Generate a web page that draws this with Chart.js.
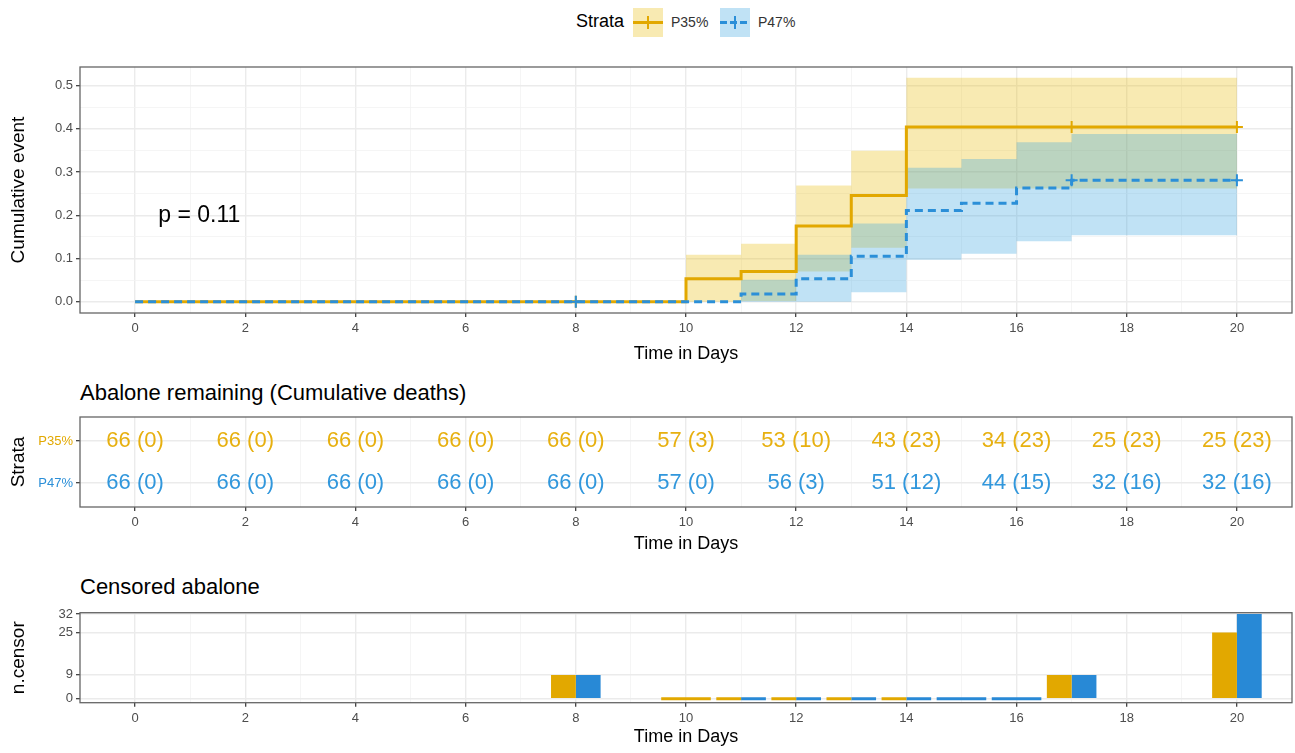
<!DOCTYPE html>
<html>
<head>
<meta charset="utf-8">
<script src="https://cdn.jsdelivr.net/npm/chart.js@4.4.1/dist/chart.umd.min.js"></script>
<style>
  body { margin: 0; background: #fff; width: 1295px; height: 753px; position: relative; overflow: hidden;
         font-family: "Liberation Sans", Arial, sans-serif; }
  canvas { position: absolute; left: 0; }
  .txt { position: absolute; white-space: nowrap; color: #000; }
  .key { position: absolute; width: 30px; height: 29px; top: 8px; }
  .key .h { position: absolute; left: 0; right: 0; top: 13px; height: 3px; }
  .key .v { position: absolute; left: 14px; width: 2px; top: 8px; height: 13px; }
</style>
</head>
<body>
<div class="txt" style="left:576px; top:11px; font-size:18px;">Strata</div>
<div class="key" style="left:633px; background:rgba(231,184,0,0.3);"><div class="h" style="background:#E2A800"></div><div class="v" style="background:#E2A800"></div></div>
<div class="txt" style="left:671px; top:14px; font-size:14px; color:#333;">P35%</div>
<div class="key" style="left:720px; background:rgba(46,159,223,0.3);"><div class="h" style="background:repeating-linear-gradient(90deg,#2B8FD8 0 7px,transparent 7px 10px)"></div><div class="v" style="background:#2B8FD8"></div></div>
<div class="txt" style="left:758px; top:14px; font-size:14px; color:#333;">P47%</div>
<div class="txt" style="left:80px; top:380px; font-size:22px;">Abalone remaining (Cumulative deaths)</div>
<div class="txt" style="left:80px; top:574px; font-size:22px;">Censored abalone</div>

<canvas id="kmChart" width="1295" height="370" style="top:0"></canvas>
<canvas id="riskChart" width="1295" height="190" style="top:370px"></canvas>
<canvas id="censorChart" width="1295" height="193" style="top:560px"></canvas>

<script>
// ---- data ----
const strata = ['P35%', 'P47%'];
const xTicks = [0, 2, 4, 6, 8, 10, 12, 14, 16, 18, 20];
const xMinorTicks = [1, 3, 5, 7, 9, 11, 13, 15, 17, 19];

// cumulative event curves (step after each time)
const p35Times = [0, 10, 11, 12, 13, 14, 20];
const p35Event = [0, 0.053, 0.070, 0.175, 0.246, 0.404, 0.404];
const p35Lower = [0, 0, 0.002, 0.070, 0.125, 0.262, 0.262];
const p35Upper = [0, 0.109, 0.134, 0.269, 0.349, 0.518, 0.518];

const p47Times = [0, 11, 12, 13, 14, 15, 16, 17, 20];
const p47Event = [0, 0.018, 0.053, 0.105, 0.211, 0.228, 0.263, 0.281, 0.281];
const p47Lower = [0, 0, 0, 0.022, 0.097, 0.111, 0.140, 0.154, 0.154];
const p47Upper = [0, 0.051, 0.109, 0.181, 0.310, 0.330, 0.369, 0.388, 0.388];

// censor marks on the curves
const p35CensorTimes = [8, 17, 20];
const p35CensorY = [0, 0.404, 0.404];
const p47CensorTimes = [8, 17, 20];
const p47CensorY = [0, 0.281, 0.281];

const kmMajorTicks = [0, 0.1, 0.2, 0.3, 0.4, 0.5];
const kmMinorTicks = [0.05, 0.15, 0.25, 0.35, 0.45];
const pvalText = 'p = 0.11';
const pvalAt = [0.42, 0.2];

// risk table
const riskTimes = [0, 2, 4, 6, 8, 10, 12, 14, 16, 18, 20];
const p35AtRisk = [66, 66, 66, 66, 66, 57, 53, 43, 34, 25, 25];
const p35Deaths = [0, 0, 0, 0, 0, 3, 10, 23, 23, 23, 23];
const p47AtRisk = [66, 66, 66, 66, 66, 57, 56, 51, 44, 32, 32];
const p47Deaths = [0, 0, 0, 0, 0, 0, 3, 12, 15, 16, 16];

// censored counts
const censorTimes = [8, 10, 11, 12, 13, 14, 15, 16, 17, 20];
const p35Censor = [9, 0, 0, 0, 0, 0, null, null, 9, 25];
const p47Censor = [9, null, 0, 0, 0, 0, 0, 0, 9, 32];
const censorMajorTicks = [0, 9, 25, 32];
const censorMinorTicks = [4.5, 17, 28.5];

// ---- styling ----
const YELLOW = '#E2A800';
const BLUE = '#2B8FD8';
const YELLOW_FILL = 'rgba(231,184,0,0.3)';
const BLUE_FILL = 'rgba(46,159,223,0.3)';
const FONT = '"Liberation Sans", Arial, sans-serif';

Chart.defaults.font.family = FONT;
Chart.defaults.animation = false;

const pts = (xs, ys) => xs.map((x, i) => ({ x: x, y: ys[i] }));

// draws the full panel box like ggplot's theme_bw border
const frame = {
    id: 'frame',
    afterDraw(chart) {
        const a = chart.chartArea;
        const ctx = chart.ctx;
        ctx.save();
        ctx.strokeStyle = '#666';
        ctx.lineWidth = 1.3;
        ctx.strokeRect(a.left, a.top, a.right - a.left, a.bottom - a.top);
        ctx.restore();
    }
};

function gridStyle(majors) {
    const isMajor = c => majors.some(m => Math.abs(m - c.tick.value) < 1e-6);
    return {
        color: c => isMajor(c) ? '#EBEBEB' : '#F3F3F3',
        lineWidth: c => isMajor(c) ? 1.4 : 0.8,
        tickColor: c => isMajor(c) ? '#333' : 'rgba(0,0,0,0)',
        tickLength: 4,
        tickWidth: 1.2
    };
}

function setTicks(majors, minors) {
    return scale => {
        scale.ticks = majors.concat(minors).sort((a, b) => a - b).map(v => ({ value: v }));
    };
}

function labelIfMajor(majors, fmt) {
    return v => majors.some(m => Math.abs(m - v) < 1e-6) ? fmt(v) : '';
}

function xAxis(height) {
    return {
        type: 'linear',
        min: -1,
        max: 21,
        offset: false,
        afterBuildTicks: setTicks(xTicks, xMinorTicks),
        afterFit: s => { s.height = height; },
        grid: Object.assign({ offset: false }, gridStyle(xTicks)),
        border: { display: false },
        ticks: {
            autoSkip: false,
            maxRotation: 0,
            padding: 4,
            color: '#4D4D4D',
            font: { size: 13 },
            callback: labelIfMajor(xTicks, v => String(v))
        },
        title: { display: true, text: 'Time in Days', color: '#000', font: { size: 18 }, padding: { top: 0, bottom: 5 } }
    };
}

function yAxisBase(title) {
    return {
        type: 'linear',
        afterFit: s => { s.width = 80; },
        border: { display: false },
        title: { display: true, text: title, color: '#000', font: { size: 19 }, padding: { top: 7, bottom: 0 } }
    };
}

// ---- top: cumulative event curves ----
const pval = {
    id: 'pval',
    afterDatasetsDraw(chart) {
        const ctx = chart.ctx;
        const x = chart.scales.x.getPixelForValue(pvalAt[0]);
        const y = chart.scales.y.getPixelForValue(pvalAt[1]);
        ctx.save();
        ctx.fillStyle = '#000';
        ctx.font = '23px ' + FONT;
        ctx.textAlign = 'left';
        ctx.textBaseline = 'middle';
        ctx.fillText(pvalText, x, y);
        ctx.restore();
    }
};

const bandDataset = (xs, ys, order) => ({
    data: pts(xs, ys), stepped: true, borderWidth: 0, pointRadius: 0, fill: false, order: order
});

new Chart(document.getElementById('kmChart'), {
    type: 'line',
    data: {
        datasets: [
            bandDataset(p35Times, p35Lower, 11),
            Object.assign(bandDataset(p35Times, p35Upper, 10), { fill: 0, backgroundColor: YELLOW_FILL }),
            bandDataset(p47Times, p47Lower, 9),
            Object.assign(bandDataset(p47Times, p47Upper, 8), { fill: 2, backgroundColor: BLUE_FILL }),
            {
                label: strata[0], data: pts(p35Times, p35Event), stepped: true,
                borderColor: YELLOW, borderWidth: 3, pointRadius: 0, order: 4
            },
            {
                data: pts(p35CensorTimes, p35CensorY), showLine: false, pointStyle: 'cross',
                pointRadius: 6, borderColor: YELLOW, pointBorderWidth: 2, order: 3
            },
            {
                label: strata[1], data: pts(p47Times, p47Event), stepped: true,
                borderColor: BLUE, borderWidth: 3, borderDash: [8, 5], pointRadius: 0, order: 2
            },
            {
                data: pts(p47CensorTimes, p47CensorY), showLine: false, pointStyle: 'cross',
                pointRadius: 6, borderColor: BLUE, pointBorderWidth: 2, order: 1
            }
        ]
    },
    options: {
        responsive: false,
        layout: { autoPadding: false, padding: { top: 67, right: 3, left: 0, bottom: 0 } },
        plugins: { legend: { display: false }, tooltip: { enabled: false } },
        scales: {
            x: xAxis(57),
            y: Object.assign(yAxisBase('Cumulative event'), {
                min: -0.026,
                max: 0.543,
                afterBuildTicks: setTicks(kmMajorTicks, kmMinorTicks),
                grid: gridStyle(kmMajorTicks),
                ticks: {
                    padding: 3, color: '#4D4D4D', font: { size: 13 },
                    callback: labelIfMajor(kmMajorTicks, v => v.toFixed(1))
                }
            })
        }
    },
    plugins: [pval, frame]
});

// ---- middle: number at risk table ----
const riskText = {
    id: 'riskText',
    afterDatasetsDraw(chart) {
        const ctx = chart.ctx;
        ctx.save();
        ctx.font = '22px ' + FONT;
        ctx.textAlign = 'center';
        ctx.textBaseline = 'middle';
        chart.data.datasets.forEach((ds, i) => {
            ctx.fillStyle = ds.textColor;
            chart.getDatasetMeta(i).data.forEach((el, j) => {
                ctx.fillText(ds.texts[j], el.x, el.y);
            });
        });
        ctx.restore();
    }
};

const strataRow = { 'P35%': 2, 'P47%': 1 };
const strataColor = { 'P35%': YELLOW, 'P47%': BLUE };

new Chart(document.getElementById('riskChart'), {
    type: 'scatter',
    data: {
        datasets: [
            {
                data: riskTimes.map(t => ({ x: t, y: strataRow[strata[0]] })),
                texts: p35AtRisk.map((n, i) => n + ' (' + p35Deaths[i] + ')'),
                textColor: '#E7B010', pointRadius: 0
            },
            {
                data: riskTimes.map(t => ({ x: t, y: strataRow[strata[1]] })),
                texts: p47AtRisk.map((n, i) => n + ' (' + p47Deaths[i] + ')'),
                textColor: '#3197DC', pointRadius: 0
            }
        ]
    },
    options: {
        responsive: false,
        layout: { autoPadding: false, padding: { top: 47, right: 3, left: 0, bottom: 0 } },
        plugins: { legend: { display: false }, tooltip: { enabled: false } },
        scales: {
            x: xAxis(53),
            y: Object.assign(yAxisBase('Strata'), {
                min: 0.43,
                max: 2.57,
                afterBuildTicks: setTicks([1, 2], []),
                grid: gridStyle([1, 2]),
                ticks: {
                    padding: 3,
                    font: { size: 13 },
                    color: c => strataColor[strata.find(s => strataRow[s] === c.tick.value)] || '#4D4D4D',
                    callback: v => strata.find(s => strataRow[s] === v) || ''
                }
            })
        }
    },
    plugins: [riskText, frame]
});

// ---- bottom: censored counts ----
new Chart(document.getElementById('censorChart'), {
    type: 'bar',
    data: {
        datasets: [
            { label: strata[0], data: pts(censorTimes, p35Censor), backgroundColor: YELLOW },
            { label: strata[1], data: pts(censorTimes, p47Censor), backgroundColor: '#2889D6' }
        ]
    },
    options: {
        responsive: false,
        skipNull: true,
        minBarLength: 3,
        categoryPercentage: 0.9,
        barPercentage: 1.0,
        layout: { autoPadding: false, padding: { top: 52.7, right: 3, left: 0, bottom: 0 } },
        plugins: { legend: { display: false }, tooltip: { enabled: false } },
        scales: {
            x: xAxis(50.3),
            y: Object.assign(yAxisBase('n.censor'), {
                min: -1.5,
                max: 32.5,
                afterBuildTicks: setTicks(censorMajorTicks, censorMinorTicks),
                grid: gridStyle(censorMajorTicks),
                ticks: {
                    padding: 3, color: '#4D4D4D', font: { size: 13 },
                    callback: labelIfMajor(censorMajorTicks, v => String(v))
                }
            })
        }
    },
    plugins: [frame]
});
</script>
</body>
</html>
